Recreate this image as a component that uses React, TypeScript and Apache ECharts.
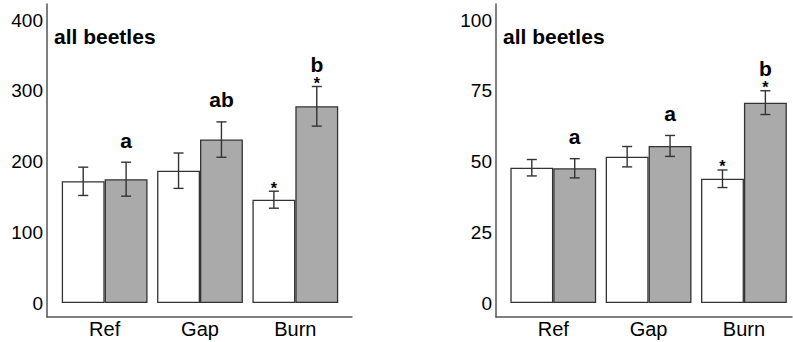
import React, { useEffect, useRef } from "react";
import * as echarts from "echarts";

const categories = ["Ref", "Gap", "Burn"];

const leftWhite = [172, 187, 146];
const leftWhiteSE = [20, 25, 12];
const leftGrey = [175, 231, 278];
const leftGreySE = [24, 25, 28];
const leftWhiteStars = ["", "", "*"];
const leftGreyStars = ["", "", "*"];
const leftLetters = ["a", "ab", "b"];

const rightWhite = [47.8, 51.7, 43.9];
const rightWhiteSE = [2.9, 3.6, 3.1];
const rightGrey = [47.6, 55.5, 70.8];
const rightGreySE = [3.4, 3.7, 4.2];
const rightWhiteStars = ["", "", "*"];
const rightGreyStars = ["", "", "*"];
const rightLetters = ["a", "a", "b"];

const panelTitle = "all beetles";

const FONT = "'Liberation Sans', Arial, Helvetica, sans-serif";
const EDGE = "#333333";
const AXIS = "#555555";
const GREY = "#aaaaaa";

function errSeries(
  gridIdx: number,
  means: number[],
  ses: number[],
  side: number,
  stars: string[],
  letters: string[] | null
) {
  return {
    type: "custom",
    xAxisIndex: gridIdx,
    yAxisIndex: gridIdx,
    z: 10,
    silent: true,
    data: means.map((m, i) => [i, m, ses[i]]),
    renderItem: (params: any, api: any) => {
      const ci = api.value(0);
      const mean = api.value(1);
      const se = api.value(2);
      const c = api.coord([ci, mean]);
      const band = api.size([1, 0])[0];
      const bw = (band * 0.9) / 2;
      const x = c[0] + (side * bw) / 2;
      const yTop = api.coord([ci, mean + se])[1];
      const yBot = api.coord([ci, mean - se])[1];
      const cap = 5;
      const ls = { stroke: EDGE, lineWidth: 1.4 };
      const children: any[] = [
        { type: "line", shape: { x1: x, y1: yTop, x2: x, y2: yBot }, style: ls },
        { type: "line", shape: { x1: x - cap, y1: yTop, x2: x + cap, y2: yTop }, style: ls },
        { type: "line", shape: { x1: x - cap, y1: yBot, x2: x + cap, y2: yBot }, style: ls },
      ];
      const star = stars[params.dataIndex];
      if (star) {
        children.push({
          type: "text",
          x: x,
          y: yTop - 3,
          style: {
            text: star,
            fontSize: 16,
            fontWeight: "bold",
            fontFamily: FONT,
            fill: "#000",
            align: "center",
            verticalAlign: "middle",
          },
        });
      }
      if (letters) {
        children.push({
          type: "text",
          x: x,
          y: yTop - 22,
          style: {
            text: letters[params.dataIndex],
            fontSize: 21,
            fontWeight: "bold",
            fontFamily: FONT,
            fill: "#000",
            align: "center",
            verticalAlign: "middle",
          },
        });
      }
      return { type: "group", children };
    },
  };
}

function barSeries(gridIdx: number, values: number[], color: string) {
  return {
    type: "bar",
    xAxisIndex: gridIdx,
    yAxisIndex: gridIdx,
    data: values,
    barGap: "0%",
    barCategoryGap: "10%",
    itemStyle: { color, borderColor: EDGE, borderWidth: 1.3 },
    silent: true,
  };
}

const App: React.FC = () => {
  const ref = useRef<HTMLDivElement>(null);
  useEffect(() => {
    if (!ref.current) return;
    const chart = echarts.init(ref.current, null, { renderer: "svg" });

    const frameAxis = (gi: number) => ({
      type: "value",
      gridIndex: gi,
      min: 0,
      max: 1,
      axisLine: { show: true, onZero: false, lineStyle: { color: AXIS, width: 1.5 } },
      axisTick: { show: false },
      axisLabel: { show: false },
      splitLine: { show: false },
    });
    const catX = (gi: number) => ({
      type: "category",
      gridIndex: gi,
      data: categories,
      axisLine: { show: false },
      axisTick: { show: false },
      axisLabel: { fontSize: 20, color: "#000", fontFamily: FONT, margin: 16 },
    });
    const valY = (gi: number, max: number, interval: number, offset: number) => ({
      type: "value",
      gridIndex: gi,
      min: 0,
      max,
      interval,
      offset,
      axisLine: { show: false },
      axisTick: { show: false },
      splitLine: { show: false },
      axisLabel: { fontSize: 19, color: "#000", fontFamily: FONT, margin: 4 },
    });

    chart.setOption({
      animation: false,
      backgroundColor: "#ffffff",
      grid: [
        { left: 57, top: 20, width: 286, height: 283 },
        { left: 505.6, top: 20, width: 286, height: 283 },
        { left: 47, top: 4, width: 305, height: 313 },
        { left: 496, top: 4, width: 296, height: 313 },
      ],
      xAxis: [catX(0), catX(1), frameAxis(2), frameAxis(3)],
      yAxis: [valY(0, 400, 100, 10), valY(1, 100, 25, 9.6), frameAxis(2), frameAxis(3)],
      graphic: [
        {
          type: "text",
          left: 54,
          top: 26,
          style: { text: panelTitle, fontSize: 21, fontWeight: "bold", fontFamily: FONT, fill: "#000" },
        },
        {
          type: "text",
          left: 503,
          top: 26,
          style: { text: panelTitle, fontSize: 21, fontWeight: "bold", fontFamily: FONT, fill: "#000" },
        },
      ],
      series: [
        barSeries(0, leftWhite, "#ffffff"),
        barSeries(0, leftGrey, GREY),
        errSeries(0, leftWhite, leftWhiteSE, -1, leftWhiteStars, null),
        errSeries(0, leftGrey, leftGreySE, 1, leftGreyStars, leftLetters),
        barSeries(1, rightWhite, "#ffffff"),
        barSeries(1, rightGrey, GREY),
        errSeries(1, rightWhite, rightWhiteSE, -1, rightWhiteStars, null),
        errSeries(1, rightGrey, rightGreySE, 1, rightGreyStars, rightLetters),
      ],
    });
    return () => chart.dispose();
  }, []);
  return (
    <div
      ref={ref}
      style={{ position: "fixed", left: 0, top: 0, width: 793, height: 342, background: "#fff" }}
    />
  );
};

export default App;
